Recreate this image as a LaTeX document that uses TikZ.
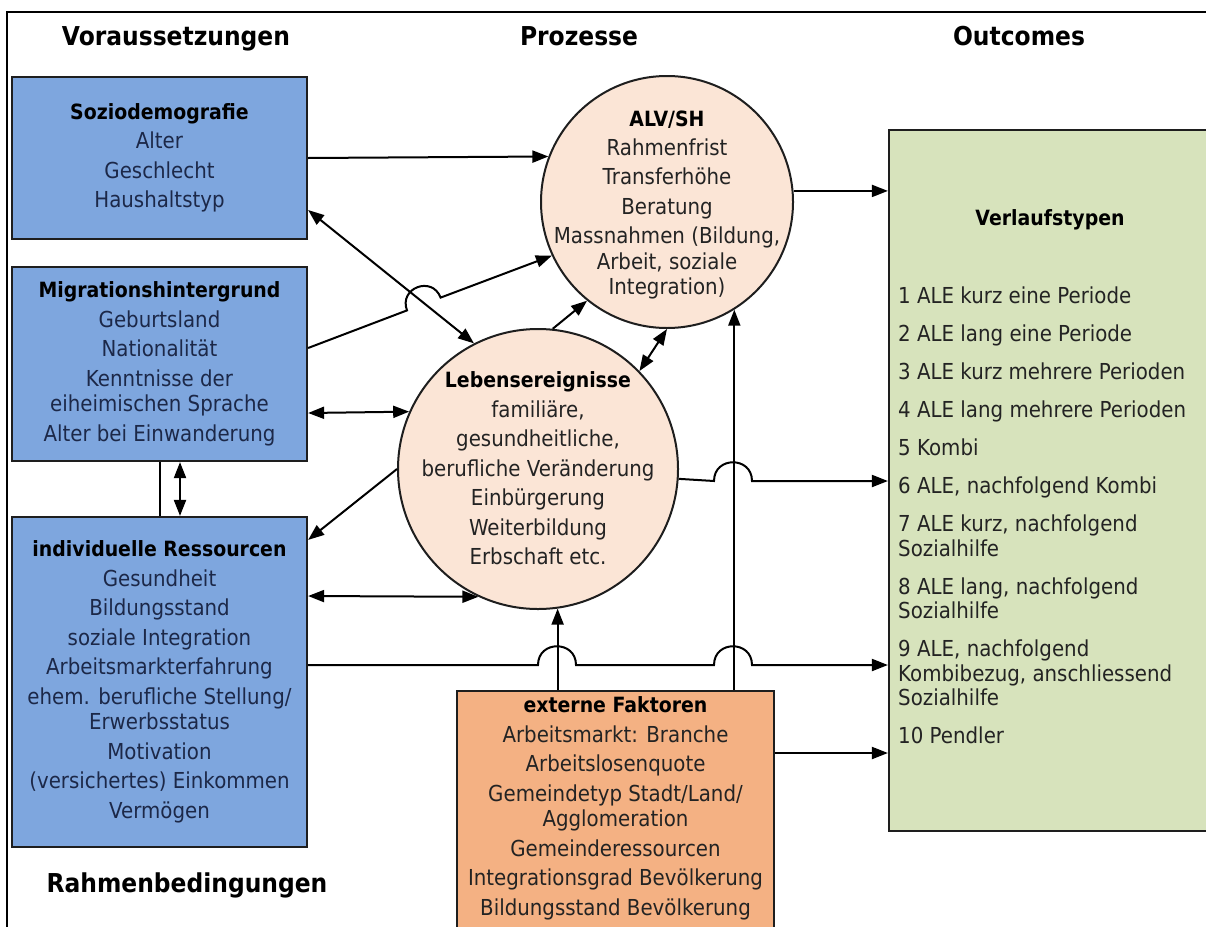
\documentclass[tikz,border=0pt]{standalone}
\usepackage{fontspec}
\setmainfont{DejaVu Sans}[FakeStretch=0.9]
\usetikzlibrary{arrows.meta,calc}
\definecolor{boxblue}{RGB}{126,166,222}
\definecolor{circfill}{RGB}{251,229,214}
\definecolor{extfill}{RGB}{244,177,131}
\definecolor{outfill}{RGB}{215,227,188}
\definecolor{navytxt}{RGB}{28,40,72}
\definecolor{darktxt}{RGB}{35,35,35}
\definecolor{edge}{RGB}{30,30,30}
\tikzset{
  bodyfont/.style={font=\fontsize{22}{25.5}\selectfont},
  boxbl/.style={draw=edge, line width=2.2pt, fill=boxblue, text=navytxt, align=center, inner sep=0pt, bodyfont},
  circ/.style={circle, draw=edge, line width=2pt, fill=circfill, inner sep=0pt},
  txt/.style={align=center, inner sep=0pt, text=darktxt, bodyfont},
  conn/.style={line width=2pt, draw=black},
  arr/.style={conn, -{Triangle[length=16pt,width=12pt]}},
  darr/.style={conn, {Triangle[length=16pt,width=12pt]}-{Triangle[length=16pt,width=12pt]}},
  headtxt/.style={font=\bfseries\fontsize{26}{30}\selectfont, anchor=base, inner sep=0pt},
}
\newcommand{\btitle}[1]{{\bfseries\color{black}\fontsize{21}{25.5}\selectfont #1}}
\begin{document}
\begin{tikzpicture}[x=1pt,y=-1pt]
\useasboundingbox (0,0) rectangle (1206,926);
\clip (0,0) rectangle (1206,926);
\fill[white] (0,0) rectangle (1206,926);
% frame
\draw[line width=2pt] (7,935) -- (7,12) -- (1215,12);
% headings
\node[headtxt] (h1) at (176,45) {Voraussetzungen};
\node[headtxt] (h2) at (579,45) {Prozesse};
\node[headtxt] (h3) at (1019,45) {Outcomes};
\node[headtxt] (h4) at (187,892) {Rahmenbedingungen};
% left boxes
\node[boxbl, minimum width=295pt, minimum height=162pt] (soz) at (159.5,158)
 {\btitle{Soziodemografie}\\[4pt]Alter\\[4pt]Geschlecht\\[4pt]Haushaltstyp};
\node[boxbl, minimum width=295pt, minimum height=194pt] (mig) at (159.5,364)
 {\btitle{Migrationshintergrund}\\[4pt]Geburtsland\\[4pt]Nationalität\\[4pt]Kenntnisse der\\eiheimischen Sprache\\[4pt]Alter bei Einwanderung};
\node[boxbl, minimum width=295pt, minimum height=330pt] (res) at (159.5,682)
 {\btitle{individuelle Ressourcen}\\[4pt]Gesundheit\\[4pt]Bildungsstand\\[4pt]soziale Integration\\[4pt]Arbeitsmarkterfahrung\\[4pt]ehem. berufliche Stellung/\\Erwerbsstatus\\[4pt]Motivation\\[4pt](versichertes) Einkommen\\[4pt]Vermögen};
% circles
\node[circ, minimum size=252pt] (alv) at (667,202) {};
\node[txt] (alvtxt) at (667,205)
 {\btitle{ALV/SH}\\[3pt]Rahmenfrist\\[4pt]Transferhöhe\\[4pt]Beratung\\[4pt]Massnahmen (Bildung,\\Arbeit, soziale\\Integration)};
\node[circ, minimum size=280pt] (leb) at (538,469) {};
\node[txt] (lebtxt) at (538,468.5)
 {\btitle{Lebensereignisse}\\[4pt]familiäre,\\[4pt]gesundheitliche,\\[4pt]berufliche Veränderung\\[4pt]Einbürgerung\\[4pt]Weiterbildung\\[4pt]Erbschaft etc.};
% external factors
\node[draw=edge, line width=2.2pt, fill=extfill, minimum width=317pt, minimum height=244pt, inner sep=0pt] (ext) at (615.5,813) {};
\node[txt] (exttxt) at (615.5,808.5)
 {\btitle{externe Faktoren}\\[4pt]Arbeitsmarkt: Branche\\[4pt]Arbeitslosenquote\\[4pt]Gemeindetyp Stadt/Land/\\Agglomeration\\[4pt]Gemeinderessourcen\\[4pt]Integrationsgrad Bevölkerung\\[4pt]Bildungsstand Bevölkerung};
% outcomes
\node[draw=edge, line width=2.2pt, fill=outfill, minimum width=331pt, minimum height=701pt, inner sep=0pt] (out) at (1054.5,480.5) {};
\node[txt] (outtitle) at (1050,220) {\btitle{Verlaufstypen}};
\node[txt, align=left, anchor=north west, font=\fontsize{22}{24.5}\selectfont] (outlist) at (898,287)
 {1 ALE kurz eine Periode\\[13.5pt]2 ALE lang eine Periode\\[13.5pt]3 ALE kurz mehrere Perioden\\[13.5pt]4 ALE lang mehrere Perioden\\[13.5pt]5 Kombi\\[13.5pt]6 ALE, nachfolgend Kombi\\[13.5pt]7 ALE kurz, nachfolgend\\Sozialhilfe\\[13.5pt]8 ALE lang, nachfolgend\\Sozialhilfe\\[13.5pt]9 ALE, nachfolgend\\Kombibezug, anschliessend\\Sozialhilfe\\[13.5pt]10 Pendler};
% hop coordinates
\coordinate (hBa) at (407.0,310.4);
\coordinate (hBc1) at (398.5,288.0);
\coordinate (hBc2) at (432.1,275.2);
\coordinate (hBb) at (440.6,297.6);
\coordinate (h1a) at (714,481);
\coordinate (h1b) at (752,481);
\coordinate (h2a) at (538,665);
\coordinate (h2b) at (576,665);
\coordinate (h3a) at (714,665);
\coordinate (h3b) at (752,665);
% connectors
\draw[arr] (soz.east) -- (alv.159.6);
\draw[darr] ([yshift=-52pt]soz.east) -- (leb.117.3);
\draw[arr] ([yshift=16pt]mig.east) -- (hBa) .. controls (hBc1) and (hBc2) .. (hBb) -- (alv.205);
\draw[darr] ([yshift=-49pt]mig.east) -- (leb.156.4);
\draw[conn] (mig.south) -- (res.north);
\draw[darr] ([xshift=20.5pt]mig.south) -- ([xshift=20.5pt]res.north);
\draw[darr] ([yshift=86pt]res.east) -- (leb.245.1);
\draw[arr] (leb.180) -- ([yshift=-24pt]res.north east);
\draw[arr] (leb.84) -- (alv.-129);
\draw[darr] (leb.44) -- (alv.south);
\draw[arr] (alv.5) -- (alv.5 -| out.west);
\draw[arr] (leb.-4.9) -- (h1a) .. controls ([yshift=25pt]h1a) and ([yshift=25pt]h1b) .. (h1b) -- (h1b -| out.west);
\draw[arr] ([yshift=17pt]res.east) -- (h2a) .. controls ([yshift=25pt]h2a) and ([yshift=25pt]h2b) .. (h2b) -- (h3a) .. controls ([yshift=25pt]h3a) and ([yshift=25pt]h3b) .. (h3b) -- (h3b -| out.west);
\draw[arr] (leb.-82.2 |- ext.north) -- (leb.-82.2);
\draw[arr] (alv.-58.4 |- ext.north) -- (alv.-58.4);
\draw[arr] ([yshift=60pt]ext.east) -- ([yshift=60pt]ext.east -| out.west);
\end{tikzpicture}
\end{document}
